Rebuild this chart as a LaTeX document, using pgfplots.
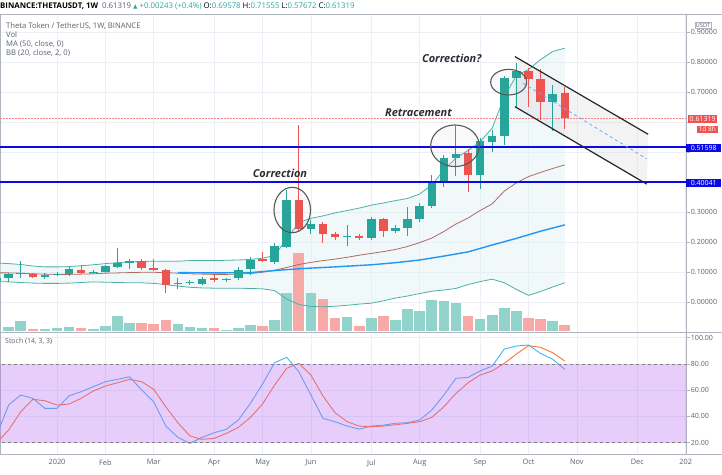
\documentclass[border=0pt]{standalone}
\usepackage{fontspec}
\setmainfont{Open Sans}
\newfontfamily\dejavu{DejaVu Sans}
\usepackage{pgfplots}
\pgfplotsset{compat=1.18}
\usepackage{pgfplotstable}
\usepgfplotslibrary{fillbetween}

\definecolor{tvgreen}{RGB}{38,166,154}
\definecolor{tvred}{RGB}{239,83,80}
\definecolor{volg}{RGB}{146,211,204}
\definecolor{volr}{RGB}{247,169,167}
\definecolor{bbline}{RGB}{80,175,165}
\definecolor{bbfill}{RGB}{222,239,243}
\definecolor{basis}{RGB}{176,106,96}
\definecolor{mablue}{RGB}{33,150,243}
\definecolor{hblue}{RGB}{10,10,230}
\definecolor{gridc}{RGB}{236,240,246}
\definecolor{axisgray}{RGB}{175,180,190}
\definecolor{labelgray}{RGB}{90,95,105}
\definecolor{stochband}{RGB}{184,112,241}
\definecolor{kcol}{RGB}{66,180,240}
\definecolor{dcol}{RGB}{255,115,50}
\definecolor{annot}{RGB}{45,45,50}
\definecolor{chanfill}{RGB}{200,200,205}
\definecolor{midblue}{RGB}{110,170,230}

% weekly candles, w = weeks after 6 Jan 2020
\pgfplotstableread{
w o h l c
-5 0.071 0.085 0.065 0.081
-4 0.079 0.098 0.068 0.092
-3 0.093 0.137 0.081 0.096
-1 0.083 0.095 0.076 0.090
0 0.091 0.099 0.087 0.094
1 0.092 0.115 0.088 0.109
3 0.098 0.107 0.094 0.101
4 0.100 0.123 0.096 0.120
5 0.118 0.179 0.112 0.131
6 0.129 0.143 0.110 0.138
10 0.060 0.081 0.043 0.063
11 0.062 0.073 0.058 0.067
12 0.060 0.082 0.057 0.077
14 0.073 0.081 0.068 0.078
15 0.079 0.117 0.074 0.107
16 0.109 0.151 0.090 0.140
18 0.134 0.195 0.127 0.188
19 0.184 0.373 0.179 0.340
21 0.242 0.273 0.227 0.260
24 0.217 0.257 0.188 0.221
26 0.212 0.283 0.208 0.277
28 0.237 0.255 0.229 0.248
29 0.248 0.318 0.220 0.277
30 0.276 0.330 0.265 0.320
31 0.320 0.423 0.312 0.398
32 0.396 0.490 0.384 0.481
33 0.481 0.587 0.421 0.493
35 0.423 0.546 0.377 0.538
36 0.533 0.573 0.499 0.553
37 0.553 0.752 0.523 0.746
38 0.746 0.796 0.651 0.770
41 0.668 0.723 0.571 0.693
}\upc
\pgfplotstableread{
w o h l c
-2 0.094 0.098 0.079 0.083
2 0.107 0.122 0.094 0.097
7 0.138 0.143 0.108 0.114
8 0.113 0.142 0.103 0.106
9 0.107 0.109 0.031 0.057
13 0.079 0.089 0.068 0.074
17 0.142 0.168 0.132 0.137
20 0.340 0.590 0.234 0.243
22 0.260 0.268 0.196 0.227
23 0.227 0.234 0.207 0.216
25 0.221 0.227 0.207 0.212
27 0.277 0.280 0.216 0.237
34 0.496 0.509 0.368 0.423
39 0.770 0.780 0.651 0.743
40 0.742 0.775 0.607 0.668
42 0.69578 0.71555 0.57672 0.61319
}\downc
% volume (relative heights)
\pgfplotstableread{
w v
-4 4.3
-3 10.3
-1 2.3
0 3
1 3.7
3 2.3
4 5.3
5 15.3
6 7.7
10 7
11 3.7
12 2.7
14 1
15 3.3
16 6
18 11
19 37.7
21 37.7
24 13.7
26 12.7
28 11
29 21.7
30 20.3
31 31
32 30.3
33 27.7
35 12
36 16
37 22.7
38 20.3
41 10.3
}\volup
\pgfplotstableread{
w v
-2 2.3
2 3
7 7.7
8 7
9 10.7
13 2.7
17 5.3
20 78.3
22 32
23 12.7
25 5
27 15
34 15.3
39 13.3
40 11.7
42 6
}\voldn
% Bollinger bands (20, 2): upper, basis, lower
\pgfplotstableread{
w u m lo
-5 0.130 0.097 0.068
-4 0.128 0.097 0.067
-3 0.125 0.096 0.065
-2 0.120 0.094 0.063
-1 0.117 0.093 0.062
0 0.117 0.092 0.062
1 0.118 0.092 0.063
2 0.121 0.093 0.065
3 0.124 0.094 0.067
4 0.128 0.096 0.066
5 0.131 0.097 0.065
6 0.134 0.098 0.064
7 0.135 0.099 0.064
8 0.136 0.099 0.062
9 0.136 0.098 0.058
10 0.136 0.096 0.053
11 0.138 0.094 0.049
12 0.138 0.093 0.047
13 0.138 0.092 0.046
14 0.139 0.092 0.046
15 0.140 0.093 0.046
16 0.142 0.095 0.045
17 0.146 0.099 0.044
18 0.155 0.106 0.038
19 0.210 0.115 0.010
20 0.265 0.125 -0.008
21 0.279 0.132 -0.015
22 0.287 0.138 -0.016
23 0.297 0.143 -0.014
24 0.305 0.149 -0.011
25 0.313 0.156 -0.007
26 0.323 0.162 -0.004
27 0.330 0.168 0.004
28 0.338 0.175 0.013
29 0.345 0.185 0.020
30 0.360 0.198 0.028
31 0.390 0.213 0.036
32 0.440 0.235 0.040
33 0.480 0.260 0.045
34 0.505 0.280 0.058
35 0.534 0.305 0.068
36 0.580 0.327 0.076
37 0.684 0.370 0.064
38 0.755 0.397 0.042
39 0.775 0.418 0.022
40 0.808 0.432 0.035
41 0.835 0.445 0.050
42 0.846 0.457 0.064
}\bb
% MA 50
\pgfplotstableread{
w ma
10 0.098
13 0.097
16 0.098
19 0.108
21 0.113
23 0.117
26 0.124
28 0.131
30 0.140
32 0.153
34 0.167
36 0.190
38 0.212
40 0.236
42 0.257
}\mafifty
% Stochastic (14,3,3): %K and %D
\pgfplotstableread{
w k d
-5 25.6 19.8
-4 48.7 29.7
-3 56.4 43.6
-2 53.8 53.1
-1 46.2 52.0
0 46.2 48.7
1 55.8 49.5
2 58.9 53.8
3 62.7 59.4
4 66.5 63.2
5 68.3 65.7
6 70.3 68.3
7 60.2 66.5
8 51.2 60.7
9 32.7 47.4
10 24.1 35.2
11 19.5 25.1
12 24.1 22.6
13 27.6 23.3
14 30.2 27.1
15 37.3 31.7
16 50.0 39.3
17 64.7 49.5
18 81.0 64.0
19 85.1 76.7
20 74.1 80.5
21 56.4 71.6
22 38.6 55.6
23 36.0 42.9
24 32.7 36.0
25 30.4 32.7
26 32.7 32.2
27 33.4 32.7
28 34.8 33.7
29 35.3 34.8
30 37.3 36.0
31 44.9 39.3
32 56.4 47.4
33 69.1 57.6
34 69.8 65.7
35 74.7 71.6
36 78.5 74.7
37 91.4 80.5
38 93.7 87.6
39 94.5 94.0
40 88.1 92.7
41 83.6 88.6
42 76.0 82.3
}\stoch

\begin{document}
\begin{tikzpicture}

% ---------------- main price panel ----------------
\begin{axis}[
  at={(0bp,143bp)}, anchor=south west, scale only axis,
  width=686bp, height=318bp,
  xmin=-4.715, xmax=52.03, ymin=-0.1, ymax=0.96,
  axis line style={draw=axisgray, line width=0.6bp},
  xtick={-5,0,4,8,13,17,21,26,30,35,39,43,48,52}, xticklabels={},
  xtick style={draw=none},
  ytick={0,0.1,0.2,0.3,0.4,0.5,0.6,0.7,0.8,0.9},
  yticklabels={0.00000,0.10000,0.20000,0.30000,,,,0.70000,0.80000,0.90000},
  yticklabel pos=right,
  ytick style={draw=axisgray, line width=0.6bp},
  tick align=outside, major tick length=3.5bp,
  yticklabel style={font=\fontsize{7.1}{8}\selectfont, text=labelgray, inner sep=1.2bp},
  xmajorgrids, ymajorgrids, grid style={draw=gridc, line width=0.6bp},
]
% Bollinger band area
\addplot[name path=bbU, draw=none] table[x=w,y=u]{\bb};
\addplot[name path=bbL, draw=none] table[x=w,y=lo]{\bb};
\addplot[fill=bbfill, fill opacity=0.45, draw=none] fill between[of=bbU and bbL];
% volume
\addplot[quiver={u=0,v=\thisrow{v}/300}, volg, line width=10.6bp] table[x=w, y expr=-0.0967]{\volup};
\addplot[quiver={u=0,v=\thisrow{v}/300}, volr, line width=10.6bp] table[x=w, y expr=-0.0967]{\voldn};
% channel shading
\addplot[fill=chanfill, fill opacity=0.22, draw=none] coordinates {(37.88,0.818) (48.90,0.559) (48.78,0.393) (37.88,0.651)} -- cycle;
% BB lines, basis, MA50
\addplot[bbline, line width=0.8bp] table[x=w,y=u]{\bb};
\addplot[bbline, line width=0.8bp] table[x=w,y=lo]{\bb};
\addplot[basis, line width=0.8bp] table[x=w,y=m]{\bb};
\addplot[mablue, line width=1.4bp] table[x=w,y=ma]{\mafifty};
% last price line
\addplot[tvred!70, densely dotted, line width=0.5bp] coordinates {(-5,0.61319) (53,0.61319)};
% candles
\addplot[quiver={u=0,v=\thisrow{h}-\thisrow{l}}, tvgreen, line width=1bp] table[x=w,y=l]{\upc};
\addplot[quiver={u=0,v=\thisrow{c}-\thisrow{o}}, tvgreen, line width=8.5bp] table[x=w,y=o]{\upc};
\addplot[quiver={u=0,v=\thisrow{h}-\thisrow{l}}, tvred, line width=1bp] table[x=w,y=l]{\downc};
\addplot[quiver={u=0,v=\thisrow{o}-\thisrow{c}}, tvred, line width=8.5bp] table[x=w,y=c]{\downc};
% horizontal levels
\addplot[hblue, line width=1.6bp] coordinates {(-5,0.51598) (53,0.51598)};
\addplot[hblue, line width=1.6bp] coordinates {(-5,0.40041) (53,0.40041)};
% descending channel
\addplot[black!85, line width=1.2bp] coordinates {(37.88,0.818) (48.90,0.559)};
\addplot[black!85, line width=1.2bp] coordinates {(37.88,0.651) (48.78,0.393)};
\addplot[midblue, dashed, line width=0.8bp] coordinates {(38.57,0.729) (48.78,0.477)};
% ellipses
\draw[black!65, line width=1.1bp, fill=gray, fill opacity=0.05] (axis cs:19.46,0.3067) ellipse [x radius=18.3bp, y radius=22.7bp];
\draw[black!65, line width=1.1bp, fill=gray, fill opacity=0.05] (axis cs:32.92,0.5207) ellipse [x radius=24.3bp, y radius=20.8bp];
\draw[black!65, line width=1.1bp, fill=gray, fill opacity=0.05] (axis cs:37.36,0.7327) ellipse [x radius=18bp, y radius=12.8bp];
% annotations
\node[font=\fontsize{11}{13}\selectfont\bfseries\itshape, text=annot] at (axis cs:18.44,0.429) {Correction};
\node[font=\fontsize{11}{13}\selectfont\bfseries\itshape, text=annot] at (axis cs:29.90,0.631) {Retracement};
\node[font=\fontsize{11}{13}\selectfont\bfseries\itshape, text=annot] at (axis cs:32.65,0.812) {Correction?};
\end{axis}

% ---------------- stochastic panel ----------------
\begin{axis}[
  at={(0bp,21bp)}, anchor=south west, scale only axis,
  width=686bp, height=122bp,
  xmin=-4.715, xmax=52.03, ymin=11.4, ymax=104.4,
  axis line style={draw=axisgray, line width=0.6bp},
  xtick={-5,0,4,8,13,17,21,26,30,35,39,43,48,52},
  xticklabels={Dec,2020,Feb,Mar,Apr,May,Jun,Jul,Aug,Sep,Oct,Nov,Dec,202},
  xtick style={draw=none},
  xticklabel style={font=\fontsize{7.4}{8}\selectfont, text=labelgray, inner sep=1.8bp},
  ytick={20,40,60,80,100},
  yticklabels={20.00,40.00,60.00,80.00,100.00},
  yticklabel pos=right,
  ytick style={draw=axisgray, line width=0.6bp},
  tick align=outside, major tick length=3.5bp,
  yticklabel style={font=\fontsize{7.1}{8}\selectfont, text=labelgray, inner sep=1.2bp},
  xmajorgrids, ymajorgrids, grid style={draw=gridc, line width=0.6bp},
]
\addplot[kcol, line width=0.9bp] table[x=w,y=k]{\stoch};
\addplot[dcol, line width=0.9bp] table[x=w,y=d]{\stoch};
\addplot[fill=stochband, fill opacity=0.35, draw=none] coordinates {(-6,20) (54,20) (54,80) (-6,80)} -- cycle;
\addplot[gray, dashed, line width=0.6bp] coordinates {(-6,80) (54,80)};
\addplot[gray, dashed, line width=0.6bp] coordinates {(-6,20) (54,20)};
\end{axis}

% frame extensions
\draw[axisgray, line width=0.6bp] (0bp,461bp) -- (722bp,461bp);
\draw[axisgray, line width=0.6bp] (0bp,143bp) -- (722bp,143bp);
\draw[axisgray, line width=0.6bp] (0bp,21bp) -- (722bp,21bp);

% header
\node[anchor=west, inner sep=0pt, font=\fontsize{7.85}{9}\selectfont] at (0bp,469bp)
 {{\bfseries BINANCE:THETAUSDT, 1W}\hspace{4bp}\textcolor{labelgray}{0.61319} \textcolor{tvgreen}{{\dejavu\fontsize{5.8}{6}\selectfont ▲} +0.00243 (+0.4\%)} O:\textcolor{tvgreen}{0.69578} H:\textcolor{tvgreen}{0.71555} L:\textcolor{tvgreen}{0.57672} C:\textcolor{tvgreen}{0.61319}};

% legend of main panel
\begin{scope}[every node/.style={anchor=west, inner sep=0pt, font=\fontsize{7.7}{8}\selectfont, text=labelgray}]
\node at (6bp,449.3bp) {Theta Token / TetherUS, 1W, BINANCE};
\node at (6bp,440.3bp) {Vol};
\node at (6bp,431.3bp) {MA (50, close, 0)};
\node at (6bp,422.3bp) {BB (20, close, 2, 0)};
\node[font=\fontsize{7}{8}\selectfont] at (5bp,133.3bp) {Stoch (14, 3, 3)};
\end{scope}

% right scale labels
\node[draw=axisgray, text=labelgray, font=\fontsize{5.8}{6}\selectfont, inner sep=1bp, fill=white] at (703bp,450bp) {USDT};
\node[anchor=west, fill=tvred, text=white, font=\fontsize{7}{8}\selectfont, inner xsep=1.5bp, inner ysep=1.2bp] at (688bp,356bp) {0.61319};
\node[anchor=east, fill=tvred, text=white, font=\fontsize{6.5}{8}\selectfont, inner xsep=2bp, inner ysep=1.2bp] at (718bp,345.5bp) {1d 8h};
\node[anchor=west, fill=hblue, text=white, font=\fontsize{7}{8}\selectfont, inner xsep=2bp, inner ysep=1.3bp, minimum width=35bp] at (686bp,327bp) {0.51598};
\node[anchor=west, fill=hblue, text=white, font=\fontsize{7}{8}\selectfont, inner xsep=2bp, inner ysep=1.3bp, minimum width=35bp] at (686bp,291.7bp) {0.40041};

\pgfresetboundingbox
\path[use as bounding box] (0bp,0bp) rectangle (722bp,475bp);
\end{tikzpicture}
\end{document}
